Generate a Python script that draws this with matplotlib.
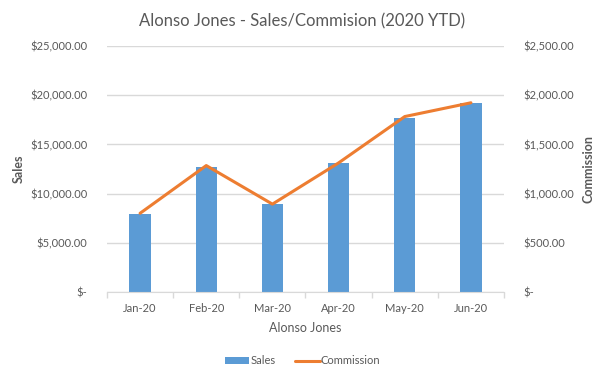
import matplotlib
matplotlib.use("Agg")
import matplotlib.pyplot as plt
from matplotlib.ticker import FuncFormatter, FixedLocator
import numpy as np

months = ["Jan-20", "Feb-20", "Mar-20", "Apr-20", "May-20", "Jun-20"]
sales = [7950, 12740, 8970, 13150, 17730, 19160]
commission = [800, 1285, 893, 1312, 1783, 1923]
sales_ticks = [0, 5000, 10000, 15000, 20000, 25000]
comm_ticks = [0, 500, 1000, 1500, 2000, 2500]

plt.rcParams['font.family'] = ['Lato', 'DejaVu Sans']
gray = "#595959"

fig = plt.figure(figsize=(6.05, 3.8), dpi=100)
ax = fig.add_axes([107/605, 1-292/380, (504-107)/605, (292-46)/380])
ax2 = ax.twinx()

x = np.arange(len(months))
ax.bar(x, sales, width=0.32, color="#5b9bd5", label="Sales", zorder=2)
ax2.plot(x, commission, color="#ed7d31", lw=2.2, label="Commission", solid_capstyle="round", zorder=3)

ax.set_xlim(-0.5, len(months) - 0.5)
ax.set_ylim(0, 25000)
ax2.set_ylim(0, 2500)
ax.set_yticks(sales_ticks)
ax2.set_yticks(comm_ticks)

def money(v, pos):
    if v == 0:
        return "$-"
    return "${:,.2f}".format(v)

ax.yaxis.set_major_formatter(FuncFormatter(money))
ax2.yaxis.set_major_formatter(FuncFormatter(money))

ax.set_xticks(x)
ax.set_xticklabels(months)
ax.xaxis.set_minor_locator(FixedLocator(np.arange(-0.5, len(months), 1)))
ax.tick_params(axis='x', which='major', length=0, pad=8, labelsize=8, labelcolor=gray)
ax.tick_params(axis='x', which='minor', length=4, color="#d9d9d9", width=1)
ax.tick_params(axis='y', length=0, pad=14, labelsize=8, labelcolor=gray)
ax2.tick_params(axis='y', length=0, pad=14, labelsize=8, labelcolor=gray)

ax.grid(axis='y', color="#d9d9d9", lw=1, zorder=0)
ax.set_axisbelow(True)
for a in (ax, ax2):
    for s in ("top", "left", "right"):
        a.spines[s].set_visible(False)
    a.spines["bottom"].set_color("#d9d9d9")
ax2.spines["bottom"].set_visible(False)

ax.set_ylabel("Sales", fontsize=9, color=gray, fontweight="bold")
ax2.set_ylabel("Commission", fontsize=9, color=gray, fontweight="bold")
ax.yaxis.set_label_coords((25 - 107)/397, 0.5)
ax2.yaxis.set_label_coords((583-107)/397, 0.5)
ax.set_xlabel("Alonso Jones", fontsize=9, color=gray, labelpad=6)

fig.text(0.5, 1-21/380, "Alonso Jones - Sales/Commision (2020 YTD)", ha="center", va="center",
         fontsize=12, color=gray)

h1, l1 = ax.get_legend_handles_labels()
h2, l2 = ax2.get_legend_handles_labels()
fig.legend(h1 + h2, l1 + l2, loc="center", bbox_to_anchor=(0.5, 1-361/380), ncol=2,
           frameon=False, fontsize=8, labelcolor=gray, handlelength=2.2, handletextpad=0.1,
           columnspacing=1.8, handleheight=0.6)

fig.savefig("out.png", dpi=100)
